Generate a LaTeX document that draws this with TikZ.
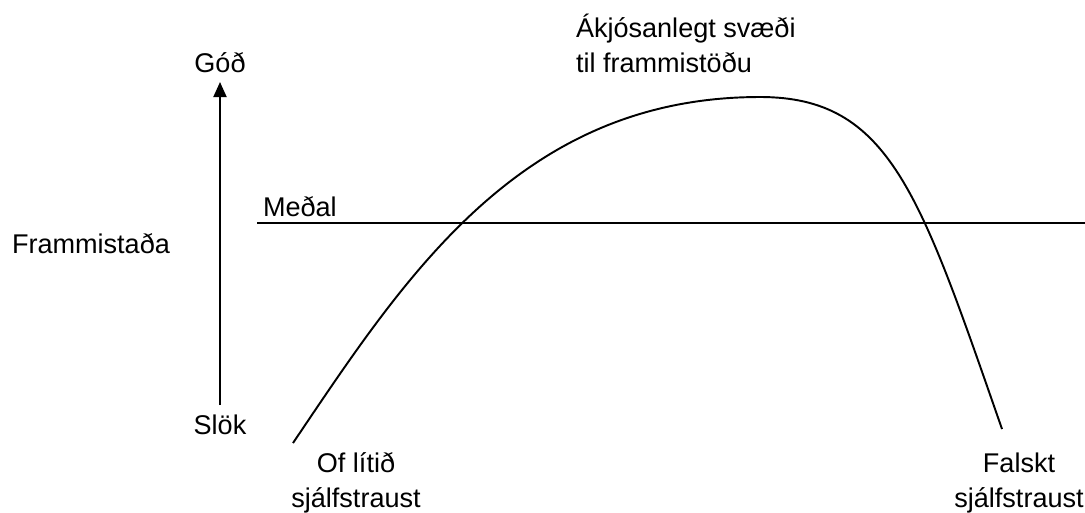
\documentclass[tikz,border=0pt]{standalone}
\usepackage{fontspec}
\setmainfont{Liberation Sans}
\usetikzlibrary{arrows.meta}

\begin{document}
\begin{tikzpicture}[
        x=0.02cm, y=-0.02cm,
        font=\fontsize{15.4pt}{19.9pt}\selectfont,
        >={Triangle[width=2.6mm, length=3mm]},
        lbl/.style={inner sep=0pt, outer sep=0pt},
        axisline/.style={->, line width=1.1pt},
        avgline/.style={line width=1.4pt},
        curve/.style={line width=1.1pt}
    ]
        \useasboundingbox (0,0) rectangle (1085,512);

        % Axis labels
        \node[lbl, anchor=base] (good) at (220,72) {Góð};
        \node[lbl, anchor=base] (poor) at (220,434) {Slök};
        \node[lbl, anchor=base west] (perf) at (12,253) {Frammistaða};

        % Axis arrow
        \coordinate (axbot) at (220,405);
        \coordinate (axtop) at (220,82);
        \draw[axisline] (axbot) -- (axtop);

        % Average line
        \node[lbl, anchor=base west] (avg) at (263,216) {Meðal};
        \coordinate (avgL) at (257,223);
        \coordinate (avgR) at (1085,223);
        \draw[avgline] (avgL) -- (avgR);

        % Performance curve
        \coordinate (lowend) at (293,443);
        \coordinate (peak) at (760,97);
        \coordinate (highend) at (1002,429);
        \draw[curve] (lowend) .. controls (405,277) and (520,97) .. (peak)
            .. controls (890,97) and (920,194) .. (highend);

        % Zone labels
        \node[lbl, anchor=base west, align=left] (optimal) at (576,72) {Ákjósanlegt svæði\\til frammistöðu};
        \node[lbl, anchor=base, align=center] (low) at (356,507) {Of lítið\\sjálfstraust};
        \node[lbl, anchor=base, align=center] (false) at (1019,507) {Falskt\\sjálfstraust};
    \end{tikzpicture}
\end{document}
